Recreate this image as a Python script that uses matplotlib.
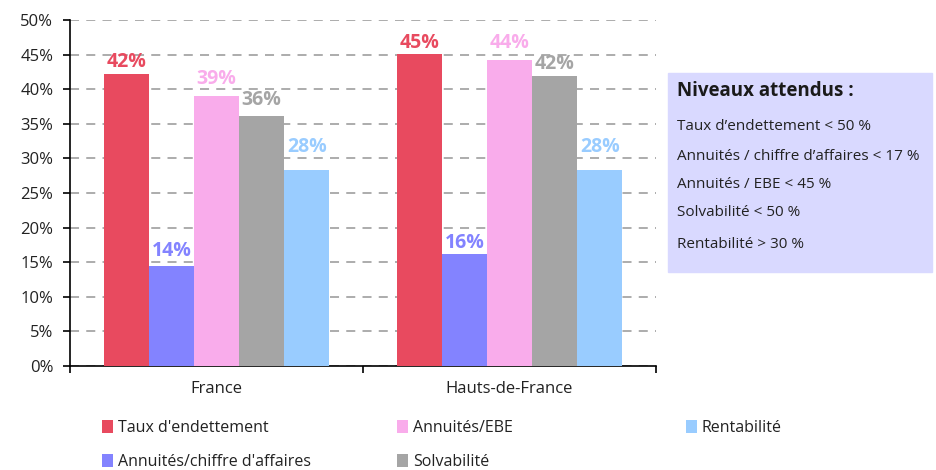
import numpy as np
import matplotlib.pyplot as plt
from matplotlib.patches import Rectangle

plt.rcParams['font.family'] = ['Open Sans', 'DejaVu Sans']

regions = ["France", "Hauts-de-France"]
series = ["Taux d'endettement", "Annuités/chiffre d'affaires", "Annuités/EBE",
          "Solvabilité", "Rentabilité"]
taux = [42.2, 45.1]
annuites_ca = [14.4, 16.2]
annuites_ebe = [39.0, 44.2]
solvabilite = [36.1, 41.9]
rentabilite = [28.3, 28.3]
couleurs = ["#E84A5F", "#8383FF", "#F9ACEB", "#A5A5A5", "#99CCFF"]
niveaux = ["Taux d’endettement < 50 %", "Annuités / chiffre d’affaires < 17 %",
           "Annuités / EBE < 45 %", "Solvabilité < 50 %", "Rentabilité > 30 %"]

valeurs = [taux, annuites_ca, annuites_ebe, solvabilite, rentabilite]
# décalage des étiquettes au-dessus des barres (pixels), par série et région
decalage = [[12, 11], [15, 11], [17, 17], [16, 12], [23, 23]]

fig = plt.figure(figsize=(9.36, 4.70), dpi=100)
ax = fig.add_axes([70/936, 1-366/470, 586/936, 346/470])

x = np.arange(len(regions))
larg = 0.154
barres = []
for i, (nom, vals, c) in enumerate(zip(series, valeurs, couleurs)):
    pos = x + (i - 2) * larg
    b = ax.bar(pos, vals, larg, color=c, label=nom, zorder=3)
    barres.append(b)
    for p, v, d in zip(pos, vals, decalage[i]):
        ax.annotate(f"{round(v)}%", (p, v), xytext=(0, d), textcoords="offset pixels",
                    ha="center", va="center", color=c, fontsize=14,
                    fontweight="bold", zorder=4)

ax.set_xlim(-0.5, 1.5)
ax.set_ylim(0, 50)
ax.set_yticks(range(0, 51, 5))
ax.set_yticklabels([f"{t}%" for t in range(0, 51, 5)], fontsize=12, color="#222222")
ax.yaxis.grid(True, ls=(0, (5, 4)), color="#A6A6A6", lw=1.3, zorder=0)
ax.set_xticks([-0.5, 0.5, 1.5])
ax.set_xticklabels([])
ax.set_xticks(x, minor=True)
ax.set_xticklabels(regions, minor=True, fontsize=12, color="#222222")
ax.tick_params(axis="x", which="minor", length=0, pad=11)
ax.tick_params(axis="x", which="major", length=5, width=1.2)
ax.tick_params(axis="y", length=5, width=1.2, pad=7)
for s in ["top", "right"]:
    ax.spines[s].set_visible(False)
for s in ["left", "bottom"]:
    ax.spines[s].set_linewidth(1.2)

# légende en trois colonnes placées à la main
colonnes = [(102, [0, 1]), (397, [2, 3]), (686, [4])]
for xx, idx in colonnes:
    leg = fig.legend([barres[k] for k in idx], [series[k] for k in idx],
                     loc="upper left", bbox_to_anchor=(xx/936, 1-420/470),
                     frameon=False, fontsize=11.5, handlelength=0.7,
                     handleheight=0.85, handletextpad=0.3, labelspacing=1.15,
                     borderpad=0, borderaxespad=0)
    for t in leg.get_texts():
        t.set_color("#222222")

fig.patches.append(Rectangle((668/936, 1-272/470), 264/936, 199/470,
                             transform=fig.transFigure, color="#D9D9FF", zorder=0))
fig.text(677/936, 1-91/470, "Niveaux attendus :", fontsize=13.5, fontweight="bold",
         va="center", color="#1a1a1a")
for txt, yy in zip(niveaux, [126, 156, 184, 213, 244]):
    fig.text(677/936, 1-yy/470, txt, fontsize=11, va="center", color="#222222")

fig.savefig("out.png", dpi=100)
